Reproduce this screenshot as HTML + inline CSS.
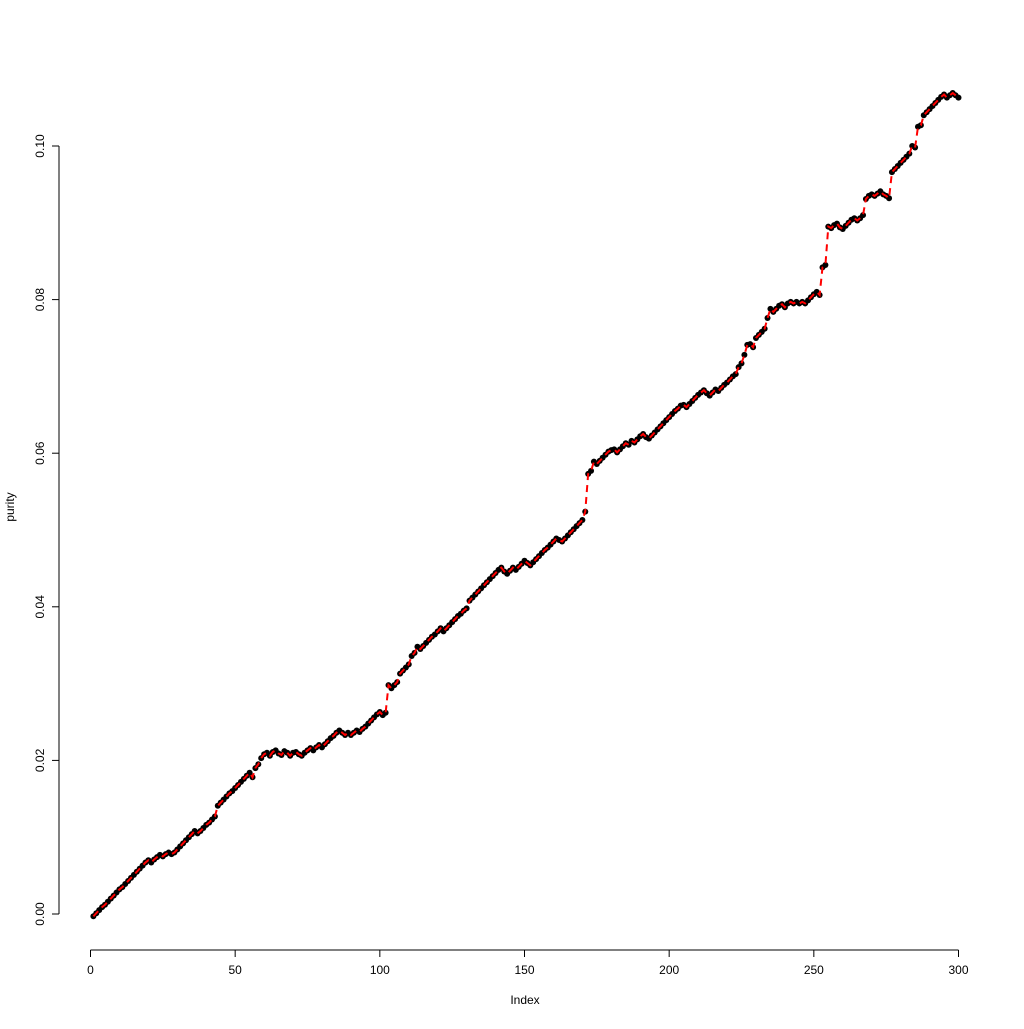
<!DOCTYPE html>
<html><head><meta charset="utf-8"><style>
html,body{margin:0;padding:0;background:#fff}
svg text{font-family:"Liberation Sans",sans-serif;font-size:12px;fill:#000}
</style></head><body>
<svg id="chart" width="1024" height="1024" xmlns="http://www.w3.org/2000/svg">
<g id="axes"></g><g id="pts"></g><g id="ln"></g>
</svg>
<script>
const xTicks=[0,50,100,150,200,250,300];
const yTicks=[0,0.02,0.04,0.06,0.08,0.10];
const yTickLabels=["0.00","0.02","0.04","0.06","0.08","0.10"];
const purityE4=[-3,1,5,9,12,16,20,24,28,32,
35,39,43,47,51,55,59,63,67,70,
67,71,74,77,75,78,80,78,80,84,
88,92,96,100,104,108,105,108,112,116,
119,123,127,141,145,149,153,157,160,164,
168,172,176,180,184,178,190,195,203,208,
210,206,211,213,209,207,212,210,206,210,
211,208,206,210,213,216,213,217,220,217,
221,225,229,232,236,239,236,233,236,233,
236,239,237,241,244,248,252,256,260,263,
259,262,298,294,298,302,313,317,321,325,
336,340,348,345,349,353,357,361,364,368,
372,368,372,376,380,384,388,391,395,398,
408,412,416,420,424,428,432,436,440,444,
448,451,446,443,447,451,448,452,456,460,
457,454,458,462,466,470,474,477,481,485,
489,487,485,489,493,497,501,505,509,513,
524,573,577,589,586,590,594,598,602,604,
605,601,605,609,613,611,616,614,618,622,
625,621,619,623,627,631,635,639,643,647,
651,655,658,662,663,660,664,668,672,676,
679,682,678,675,679,683,681,685,689,692,
696,700,703,712,717,728,741,742,738,750,
754,758,762,776,788,784,788,792,794,790,
795,797,795,797,795,797,795,799,803,807,
810,806,842,845,895,893,897,899,894,892,
896,900,904,906,903,906,910,931,935,937,
935,938,941,937,935,932,966,970,974,978,
982,986,990,1000,998,1025,1027,1040,1044,1048,
1052,1056,1060,1064,1067,1063,1066,1069,1066,1063];
const values=purityE4.map(v=>v/10000);
const NS="http://www.w3.org/2000/svg";
const xs=x=>90.5+x*(958.5-90.5)/300;
const ys=y=>914-y*7680;
function mk(tag,attrs,parent,text){const e=document.createElementNS(NS,tag);for(const k in attrs)e.setAttribute(k,attrs[k]);if(text!==undefined)e.textContent=text;parent.appendChild(e);return e;}
const axes=document.getElementById('axes');
let xa=mk('line',{x1:xs(0),x2:xs(300),y1:950,y2:950,stroke:'#000'},axes);


xTicks.forEach(t=>{
  const tk=mk('line',{x1:xs(t),x2:xs(t),y1:950,y2:957,stroke:'#000'},axes);
  
  
  const lb=mk('text',{x:xs(t),y:974,'text-anchor':'middle'},axes,String(t));
  
  
});
let ya=mk('line',{x1:59,x2:59,y1:ys(0),y2:ys(0.10),stroke:'#000'},axes);


yTicks.forEach((t,i)=>{
  const tk=mk('line',{x1:52,x2:59,y1:ys(t),y2:ys(t),stroke:'#000'},axes);
  
  
  const lb=mk('text',{x:44,y:ys(t),'text-anchor':'middle',transform:`rotate(-90 44 ${ys(t)})`},axes,yTickLabels[i]);
  
  
});
const xt=mk('text',{x:525,y:1004,'text-anchor':'middle'},axes,'Index');


const yt=mk('text',{x:14,y:507,'text-anchor':'middle',transform:'rotate(-90 14 507)'},axes,'purity');


const pts=document.getElementById('pts');
values.forEach((v,i)=>{
  const c=mk('circle',{cx:xs(i+1),cy:ys(v),r:3,fill:'#000'},pts);
  
  
});
const d=values.map((v,i)=>(i?'L':'M')+xs(i+1).toFixed(2)+','+ys(v).toFixed(2)).join('');
const p=mk('path',{d:d,fill:'none',stroke:'#ff0000','stroke-width':2,'stroke-dasharray':'7,5'},document.getElementById('ln'));


</script>
</body></html>
